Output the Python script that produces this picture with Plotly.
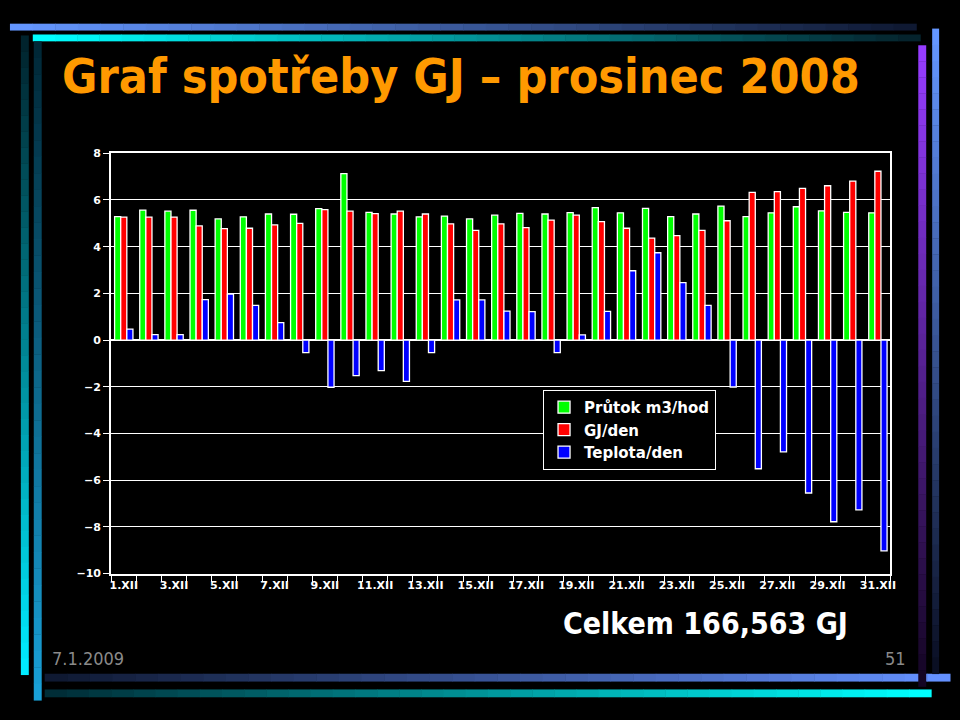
import plotly.graph_objects as go

# ---------------- data ----------------
days = [f"{d}.XII" for d in range(1, 32)]
prutok = [5.29, 5.57, 5.52, 5.56, 5.19, 5.28, 5.40, 5.39, 5.63, 7.13,
          5.47, 5.40, 5.28, 5.31, 5.19, 5.35, 5.43, 5.40, 5.46, 5.67,
          5.45, 5.64, 5.29, 5.40, 5.74, 5.29, 5.45, 5.71, 5.53, 5.47, 5.45]
gj_den = [5.27, 5.27, 5.27, 4.89, 4.77, 4.79, 4.93, 5.00, 5.59, 5.52,
          5.42, 5.52, 5.40, 4.98, 4.70, 4.98, 4.82, 5.14, 5.35, 5.07,
          4.79, 4.37, 4.47, 4.70, 5.11, 6.33, 6.36, 6.50, 6.61, 6.81, 7.23]
teplota = [0.47, 0.23, 0.23, 1.73, 1.97, 1.49, 0.75, -0.54, -2.02, -1.52,
           -1.31, -1.77, -0.54, 1.72, 1.72, 1.24, 1.22, -0.54, 0.22, 1.23,
           2.97, 3.74, 2.46, 1.49, -2.01, -5.51, -4.79, -6.55, -7.78, -7.27, -9.03]
series_names = ["Průtok m3/hod", "GJ/den", "Teplota/den"]
title_text = "Graf spotřeby GJ – prosinec 2008"
total_text = "Celkem 166,563 GJ"
date_text = "7.1.2009"
page_text = "51"

W, H = 960, 720
xpos = list(range(1, len(days) + 1))
tick_idx = [i for i in range(len(days)) if i % 2 == 0]

fig = go.Figure()
colors = ["#00FF00", "#FF0000", "#0000FF"]
for name, vals, col in zip(series_names, [prutok, gj_den, teplota], colors):
    fig.add_trace(go.Bar(
        x=xpos, y=vals, name=f"<b>{name}</b>",
        marker=dict(color=col, line=dict(color="white", width=1.3)),
    ))

def px(x):
    return x / W

def py(y):
    return 1 - y / H

shapes = []

def grad_rect(x0, x1, y0, y1, c0, c1, vertical=False, n=40):
    for i in range(n):
        t = i / (n - 1)
        c = tuple(int(round(c0[k] + (c1[k] - c0[k]) * t)) for k in range(3))
        col = f"rgb{c}"
        if vertical:
            a = y0 + (y1 - y0) * i / n
            b = y0 + (y1 - y0) * (i + 1) / n
            shapes.append(dict(type="rect", xref="paper", yref="paper",
                               x0=px(x0), x1=px(x1), y0=py(a), y1=py(b) - 0.0005,
                               fillcolor=col, line=dict(width=0)))
        else:
            a = x0 + (x1 - x0) * i / n
            b = x0 + (x1 - x0) * (i + 1) / n
            shapes.append(dict(type="rect", xref="paper", yref="paper",
                               x0=px(a), x1=px(b) + 0.0005, y0=py(y0), y1=py(y1),
                               fillcolor=col, line=dict(width=0)))

# decorative slide frame
grad_rect(8, 921, 18, 25, (100, 150, 255), (15, 25, 50))
grad_rect(31, 925, 29, 36, (0, 255, 255), (5, 35, 45))
grad_rect(19, 27, 30, 681, (0, 35, 45), (0, 235, 255), vertical=True)
grad_rect(32, 40, 36, 707, (0, 40, 55), (25, 160, 215), vertical=True)
grad_rect(43, 955, 680, 688, (15, 25, 50), (100, 145, 255))
grad_rect(43, 936, 696, 704, (0, 45, 55), (0, 255, 255))
grad_rect(923, 931, 40, 693, (150, 60, 255), (20, 5, 35), vertical=True)
grad_rect(937, 944, 23, 680, (100, 150, 255), (10, 15, 35), vertical=True)

annotations = [
    dict(text=f"<b>{title_text}</b>", x=px(58), y=py(71), xref="paper", yref="paper",
         xanchor="left", yanchor="middle", showarrow=False,
         font=dict(family="DejaVu Sans Condensed, sans-serif",
                   size=48, color="#FF9900")),
    dict(text=f"<b>{total_text}</b>", x=px(709), y=py(629), xref="paper", yref="paper",
         xanchor="center", yanchor="middle", showarrow=False,
         font=dict(family="DejaVu Sans Condensed, sans-serif", size=30, color="white")),
    dict(text=date_text, x=px(48), y=py(665), xref="paper", yref="paper",
         xanchor="left", yanchor="middle", showarrow=False,
         font=dict(family="DejaVu Sans Condensed, sans-serif",
                   size=18, color="#8a8a8a")),
    dict(text=page_text, x=px(913), y=py(665), xref="paper", yref="paper",
         xanchor="right", yanchor="middle", showarrow=False,
         font=dict(family="DejaVu Sans Condensed, sans-serif",
                   size=18, color="#8a8a8a")),
]

fig.update_layout(
    autosize=True,
    paper_bgcolor="black", plot_bgcolor="black",
    margin=dict(l=0, r=0, t=0, b=0),
    barmode="group", bargap=0.27, bargroupgap=0.0,
    shapes=shapes, annotations=annotations,
    font=dict(family="DejaVu Sans, sans-serif", color="white"),
    legend=dict(x=px(545), y=py(391), xanchor="left", yanchor="top",
                bgcolor="black", bordercolor="white", borderwidth=1,
                font=dict(family="DejaVu Sans, sans-serif", size=15, color="white"),
                tracegroupgap=0, itemwidth=30),
    xaxis=dict(domain=[px(110), px(895)], range=[0.5, len(days) + 0.5],
               tickmode="array", tickvals=[xpos[i] for i in tick_idx],
               ticktext=[f"<b>{days[i]}</b>" for i in tick_idx],
               tickfont=dict(size=11, color="white", family="DejaVu Sans, sans-serif"),
               ticks="", showgrid=False, zeroline=False,
               showline=True, linecolor="white", linewidth=2, mirror=True,
               minor=dict(tickvals=[p + 0.5 for p in [0] + xpos], ticks="outside",
                          ticklen=6, tickcolor="white", showgrid=False)),
    yaxis=dict(domain=[py(578), py(150)], range=[-10, 8], dtick=2,
               tickfont=dict(size=11, color="white", family="DejaVu Sans, sans-serif"),
               tickprefix="<b>", ticksuffix="</b>",
               ticks="outside", ticklen=6, tickcolor="white",
               showgrid=True, gridcolor="white", gridwidth=1,
               zeroline=True, zerolinecolor="white", zerolinewidth=2,
               showline=True, linecolor="white", linewidth=2, mirror=True),
)

fig.write_html("out.html",
               default_width="100vw", default_height="100vh",
               config={"displayModeBar": False, "responsive": True},
               post_script="document.body.style.margin='0';document.body.style.overflow='hidden';document.body.style.background='black';")
